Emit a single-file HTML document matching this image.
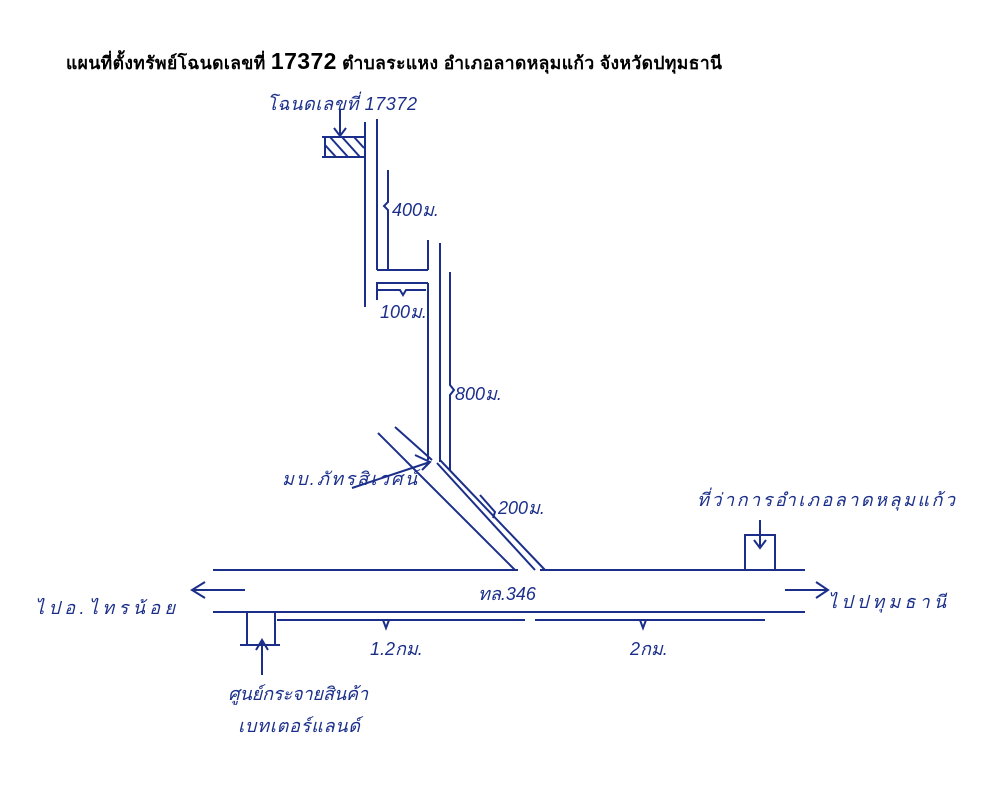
<!DOCTYPE html>
<html><head><meta charset="utf-8"><style>
body{margin:0;background:#fff}
svg{display:block}
.h{font-family:"Liberation Sans","Noto Sans CJK SC",sans-serif;fill:#1b2f8a;font-size:18px;font-style:italic}
</style></head><body>
<svg width="987" height="800" viewBox="0 0 987 800" xmlns="http://www.w3.org/2000/svg">
<text x="66" y="69" font-family="Liberation Sans, Noto Sans CJK SC, sans-serif" font-weight="bold" font-size="17.5" fill="#000" textLength="656">แผนที่ตั้งทรัพย์โฉนดเลขที่ <tspan font-size="23">17372</tspan> ตำบลระแหง อำเภอลาดหลุมแก้ว จังหวัดปทุมธานี</text>
<g stroke="#1b2f8a" stroke-width="2" fill="none">
<line x1="365" y1="122" x2="365" y2="307"/>
<line x1="377" y1="119" x2="377" y2="270"/>
<path d="M388 170 V202 l-4 4 l4 4 V270"/>
<line x1="377" y1="270" x2="428" y2="270"/>
<line x1="428" y1="240" x2="428" y2="270"/>
<line x1="376" y1="283" x2="428" y2="283"/>
<line x1="377" y1="283" x2="377" y2="300"/>
<path d="M378 290 H400 l3 5 l3 -5 H426"/>
<line x1="428" y1="283" x2="428" y2="460"/>
<line x1="440" y1="243" x2="440" y2="462"/>
<path d="M450 272 V385 l4 5 l-4 5 V470"/>
<line x1="378" y1="433" x2="515" y2="570"/>
<line x1="395" y1="427" x2="432" y2="460"/>
<line x1="437" y1="463" x2="535" y2="570"/>
<line x1="440" y1="460" x2="545" y2="570"/>
<path d="M480 495 L495 512 l-2 6"/>
<line x1="322" y1="137" x2="365" y2="137"/>
<line x1="322" y1="157" x2="365" y2="157"/>
<line x1="325" y1="137" x2="325" y2="157"/>
<path d="M330 137 L348 157 M342 137 L360 157 M354 137 L364 148 M325 145 L336 157"/>
<path d="M340 110 V135 M334 128 L340 136 L346 128"/>
<path d="M415 455 L430 462 L422 470 M430 462 L352 488"/>
<line x1="213" y1="570" x2="518" y2="570"/>
<line x1="540" y1="570" x2="805" y2="570"/>
<line x1="213" y1="612" x2="805" y2="612"/>
<path d="M277 620 H525 M535 620 H765 M383 620 l3 8 l3 -8 M640 620 l3 8 l3 -8"/>
<path d="M245 590 H192 M205 582 L192 590 L205 598"/>
<path d="M785 590 H828 M816 582 L828 590 L816 598"/>
<path d="M745 570 V535 H775 V570"/>
<path d="M760 520 V548 M754 540 L760 548 L766 540"/>
<path d="M247 612 V645 M275 612 V645 M240 645 H280"/>
<path d="M262 675 V640 M256 650 L262 640 L268 650"/>
</g>
<text class="h" x="267" y="110" textLength="150">โฉนดเลขที่ 17372</text>
<text class="h" x="392" y="216">400ม.</text>
<text class="h" x="380" y="318" font-size="15">100ม.</text>
<text class="h" x="455" y="400">800ม.</text>
<text class="h" x="282" y="485" textLength="135">มบ.ภัทรสิเวศน์</text>
<text class="h" x="498" y="514">200ม.</text>
<text class="h" x="697" y="506" textLength="258">ที่ว่าการอำเภอลาดหลุมแก้ว</text>
<text class="h" x="478" y="600">ทล.346</text>
<text class="h" x="35" y="614" textLength="140">ไปอ.ไทรน้อย</text>
<text class="h" x="828" y="608" textLength="118">ไปปทุมธานี</text>
<text class="h" x="370" y="655">1.2กม.</text>
<text class="h" x="630" y="655">2กม.</text>
<text class="h" x="228" y="700" textLength="140">ศูนย์กระจายสินค้า</text>
<text class="h" x="238" y="732" textLength="122">เบทเตอร์แลนด์</text>
</svg>
</body></html>
